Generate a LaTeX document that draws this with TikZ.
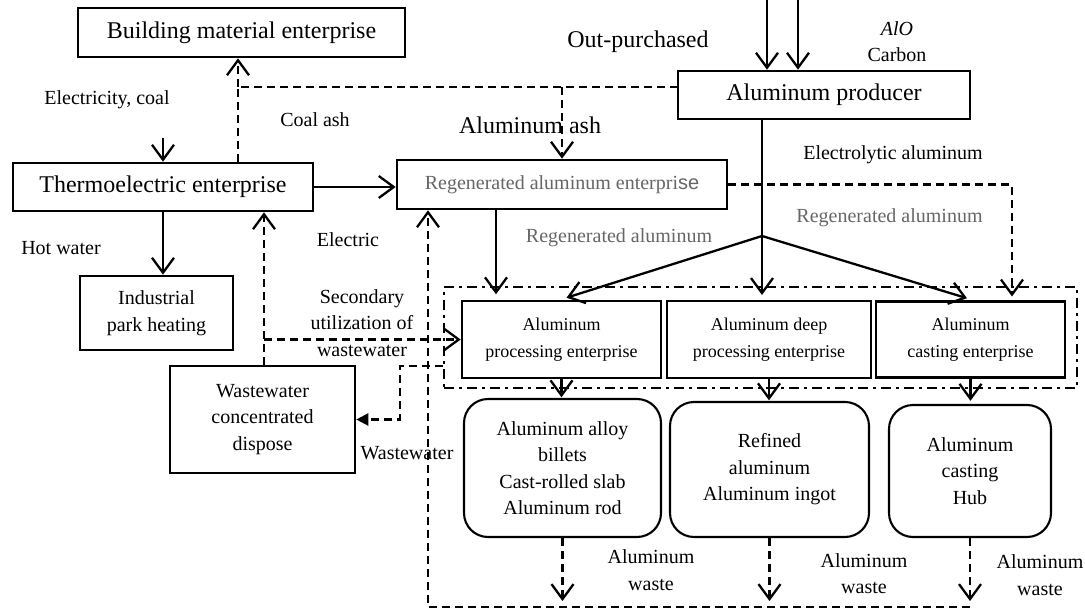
\documentclass[tikz,border=0pt]{standalone}
\usepackage{fontspec}
\setmainfont{Liberation Serif}
\newfontfamily\arialfont{Liberation Sans}
\usetikzlibrary{arrows.meta}

\begin{document}
\begin{tikzpicture}[x=1pt,y=-1pt,
  box/.style={draw,line width=2.6pt,inner sep=0pt,align=center},
  rbox/.style={box,line width=2.1pt,rounded corners=24pt},
  bigtext/.style={font=\fontsize{24}{28}\selectfont},
  midtext/.style={font=\fontsize{20}{26.5}\selectfont},
  smalltext/.style={font=\fontsize{18}{27}\selectfont},
  lbl/.style={inner sep=0pt,align=center,midtext},
  greytext/.style={text=black!60},
  tipV/.tip={Straight Barb[length=15pt,width=22pt,line width=2.3pt]},
  arr/.style={line width=2.3pt,-tipV},
  dsh/.style={line width=2.2pt,dash pattern=on 8pt off 5pt},
  darr/.style={dsh,-tipV},
  grpline/.style={draw,line width=2.3pt,dash pattern=on 10pt off 5pt on 3pt off 5pt}
]
\useasboundingbox[fill=white] (0,0) rectangle (1085,610);

% main enterprises
\node[box,bigtext,minimum width=327pt,minimum height=49pt] (bme) at (241.5,32.5) {Building material enterprise};
\node[box,bigtext,minimum width=300pt,minimum height=48pt] (thermo) at (163,187) {Thermoelectric enterprise};
\node[box,midtext,greytext,minimum width=330pt,minimum height=49pt] (reg) at (562,184.5) {Regenerated aluminum enterpri{\arialfont se}};
\node[box,bigtext,minimum width=292pt,minimum height=48pt] (prod) at (824,95) {Aluminum producer};
\node[box,midtext,minimum width=153pt,minimum height=74pt] (heat) at (156.5,313) {Industrial\\park heating};
\node[box,midtext,minimum width=185pt,minimum height=107pt] (ww) at (262.5,419.5) {Wastewater\\concentrated\\dispose};

% aluminum processing group
\node[grpline,minimum width=633pt,minimum height=101pt] (grp) at (760.5,337.5) {};
\node[box,smalltext,minimum width=199pt,minimum height=77pt] (proc) at (561.5,339.5) {Aluminum\\processing enterprise};
\node[box,smalltext,minimum width=204pt,minimum height=77pt] (deep) at (769,339.5) {Aluminum deep\\processing enterprise};
\node[box,smalltext,minimum width=189pt,minimum height=76pt] (cast) at (970.5,339.5) {Aluminum\\casting enterprise};

% products
\node[rbox,midtext,minimum width=197pt,minimum height=138pt] (pA) at (562.5,468) {Aluminum alloy\\billets\\Cast-rolled slab\\Aluminum rod};
\node[rbox,midtext,minimum width=199pt,minimum height=135pt] (pB) at (769.5,469.5) {Refined\\aluminum\\Aluminum ingot};
\node[rbox,midtext,minimum width=162pt,minimum height=132pt] (pC) at (970,471) {Aluminum\\casting\\Hub};

% labels
\node[lbl] (tEC) at (107,100) {Electricity, coal};
\node[lbl] (tCA) at (315,120) {Coal ash};
\node[lbl] (tHW) at (61,248) {Hot water};
\node[lbl] (tEL) at (348,240) {Electric};
\node[lbl] (tSU) at (362,323) {Secondary\\utilization of\\wastewater};
\node[lbl] (tWW) at (407,453) {Wastewater};
\node[lbl,bigtext] (tOP) at (638,42) {Out-purchased};
\node[lbl] (tAO) at (897,29) {\itshape AlO};
\node[lbl] (tCB) at (897,55) {Carbon};
\node[lbl,bigtext] (tAA) at (530,125) {Aluminum ash};
\node[lbl] (tEA) at (893,155) {Electrolytic aluminum};
\node[lbl,greytext] (tRA1) at (889.5,218) {Regenerated aluminum};
\node[lbl,greytext] (tRA2) at (619,238) {Regenerated aluminum};
\node[lbl] (tWA) at (651,570) {Aluminum\\waste};
\node[lbl] (tWB) at (864,573.5) {Aluminum\\waste};
\node[lbl] (tWC) at (1040,575) {Aluminum\\waste};

% thermoelectric inputs and outputs
\coordinate (ec) at (163,138);
\draw[arr] (ec) -- (thermo.north);
\draw[arr] (thermo.south) -- (thermo.south |- heat.north);
\draw[arr] (thermo.east) -- (thermo.east -| reg.west);

% coal ash and aluminum ash
\coordinate (ca) at (238,87);
\draw[dsh] (thermo.north -| ca) -- (ca) -- (ca -| prod.west);
\draw[darr] (ca) -- (ca |- bme.south);
\draw[darr] (reg.north |- ca) -- (reg.north);

% purchased raw materials
\coordinate (in1) at (767,0);
\coordinate (in2) at (798,0);
\draw[arr] (in1) -- (in1 |- prod.north);
\draw[arr] (in2) -- (in2 |- prod.north);

% wastewater loop
\coordinate (wx) at (264,339.5);
\draw[darr] (ww.north -| wx) -- (wx |- thermo.south);
\draw[darr] (wx) -- (proc.west);
\coordinate (wr) at (400,366);
\draw[dsh,-{Triangle[length=12pt,width=12pt]}] (grp.west |- wr) -- (wr) -- (wr |- ww.east) -- (ww.east);

% electrolytic aluminum distribution
\coordinate (br) at (762,236);
\draw[line width=2.3pt] (prod.south -| br) -- (br);
\draw[arr] (br) -- ([xshift=5pt,yshift=2pt]proc.north);
\draw[arr] (br) -- ++(0,59);
\draw[arr] (br) -- ([xshift=-3.5pt,yshift=2pt]cast.north);

% regenerated aluminum
\coordinate (rp) at (496,0);
\draw[arr] (reg.south -| rp) -- ++(0,84);
\coordinate (rc) at (1012,0);
\draw[darr] (reg.east) -- (reg.east -| rc) -- ++(0,112);

% enterprises to products
\draw[arr] (proc.south) -- ++(0,18);
\draw[arr] (deep.south) -- ++(0,21);
\draw[arr] (cast.south) -- ++(0,22);

% aluminum waste return
\draw[darr] (pA.south) -- ++(0,63);
\draw[darr] (pB.south) -- ++(0,63);
\draw[darr] (pC.south) -- ++(0,63);
\coordinate (bl) at (428,607);
\draw[darr] (bl -| pC.south) -- (bl) -- (bl |- reg.south);
\end{tikzpicture}
\end{document}
